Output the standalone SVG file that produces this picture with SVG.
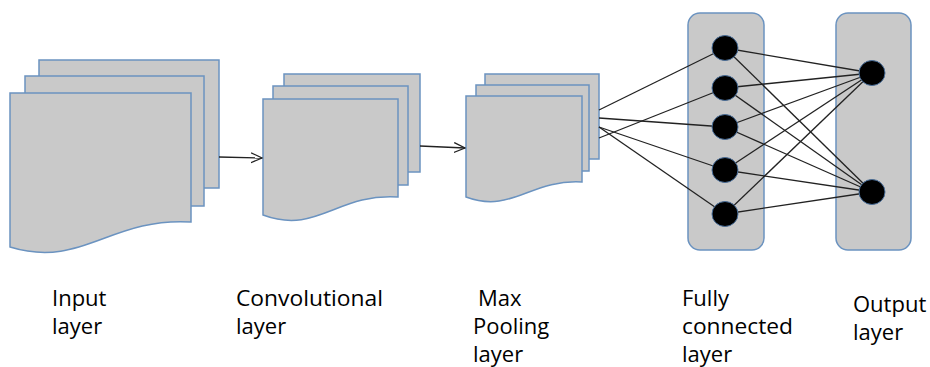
<svg xmlns="http://www.w3.org/2000/svg" width="930" height="367" viewBox="0 0 930 367">
<defs>
<style>
.page{fill:#c9c9c9;stroke:#6b93c0;stroke-width:1.5}
.box{fill:#c9c9c9;stroke:#6b93c0;stroke-width:1.5}
.node{fill:#000;stroke:#4a6f9a;stroke-width:1}
.conn{stroke:#222;stroke-width:1.3;fill:none}
.lbl{font-family:"Open Sans","Liberation Sans",sans-serif;font-size:22px;fill:#000}
</style>
<marker id="arr" viewBox="0 0 12 12" refX="11" refY="6" markerWidth="12" markerHeight="12" markerUnits="userSpaceOnUse" orient="auto">
<path d="M0,1 L11,6 L0,11" fill="none" stroke="#222" stroke-width="1.3"/>
</marker>
</defs>
<rect width="930" height="367" fill="#fff"/>

<g id="input-layer">
<rect class="page" x="39" y="60" width="180" height="128"/>
<rect class="page" x="25" y="76" width="179" height="130"/>
<path class="page" d="M10,93 H191 V222 C110,217 82,269 10,247 Z"/>
</g>

<g id="conv-layer">
<rect class="page" x="284" y="74" width="136" height="98"/>
<rect class="page" x="273" y="86" width="135" height="99"/>
<path class="page" d="M263,99 H398 V197 C337,193 317,235 263,215 Z"/>
</g>

<g id="pool-layer">
<rect class="page" x="485" y="74" width="114" height="85"/>
<rect class="page" x="476" y="85" width="113" height="86"/>
<path class="page" d="M466,96 H582 V182 C530,179 512,214 466,197 Z"/>
</g>

<g id="fc-layer">
<rect class="box" x="688" y="13" width="76" height="237" rx="12"/>
</g>
<g id="output-layer">
<rect class="box" x="836" y="13" width="75" height="237" rx="12"/>
</g>

<g id="connectors">
<line class="conn" x1="219" y1="157" x2="262" y2="158" marker-end="url(#arr)"/>
<line class="conn" x1="420" y1="146" x2="465" y2="148" marker-end="url(#arr)"/>
<line class="conn" x1="599" y1="110" x2="725" y2="48"/>
<line class="conn" x1="599" y1="118" x2="725" y2="127"/>
<line class="conn" x1="599" y1="138" x2="725" y2="88"/>
<line class="conn" x1="599" y1="127" x2="725" y2="170"/>
<line class="conn" x1="599" y1="127" x2="725" y2="214"/>
<line class="conn" x1="725" y1="48" x2="872" y2="73"/>
<line class="conn" x1="725" y1="48" x2="872" y2="192"/>
<line class="conn" x1="725" y1="88" x2="872" y2="73"/>
<line class="conn" x1="725" y1="88" x2="872" y2="192"/>
<line class="conn" x1="725" y1="127" x2="872" y2="73"/>
<line class="conn" x1="725" y1="127" x2="872" y2="192"/>
<line class="conn" x1="725" y1="170" x2="872" y2="73"/>
<line class="conn" x1="725" y1="170" x2="872" y2="192"/>
<line class="conn" x1="725" y1="214" x2="872" y2="73"/>
<line class="conn" x1="725" y1="214" x2="872" y2="192"/>
</g>

<g id="fc-nodes">
<ellipse class="node" cx="725" cy="48" rx="13" ry="12.5"/>
<ellipse class="node" cx="725" cy="88" rx="13" ry="12.5"/>
<ellipse class="node" cx="725" cy="127" rx="13" ry="12.5"/>
<ellipse class="node" cx="725" cy="170" rx="13" ry="12.5"/>
<ellipse class="node" cx="725" cy="214" rx="13" ry="12.5"/>
</g>
<g id="output-nodes">
<ellipse class="node" cx="872" cy="73" rx="13" ry="12.5"/>
<ellipse class="node" cx="872" cy="192" rx="13" ry="12.5"/>
</g>

<g id="labels">
<text class="lbl" x="52" y="306">Input</text>
<text class="lbl" x="52" y="334">layer</text>
<text class="lbl" x="236" y="306" textLength="147" lengthAdjust="spacingAndGlyphs">Convolutional</text>
<text class="lbl" x="236" y="334">layer</text>
<text class="lbl" x="478" y="306">Max</text>
<text class="lbl" x="473" y="334">Pooling</text>
<text class="lbl" x="473" y="362">layer</text>
<text class="lbl" x="682" y="306">Fully</text>
<text class="lbl" x="682" y="334" textLength="111" lengthAdjust="spacingAndGlyphs">connected</text>
<text class="lbl" x="682" y="362">layer</text>
<text class="lbl" x="853" y="312">Output</text>
<text class="lbl" x="853" y="340">layer</text>
</g>
</svg>
